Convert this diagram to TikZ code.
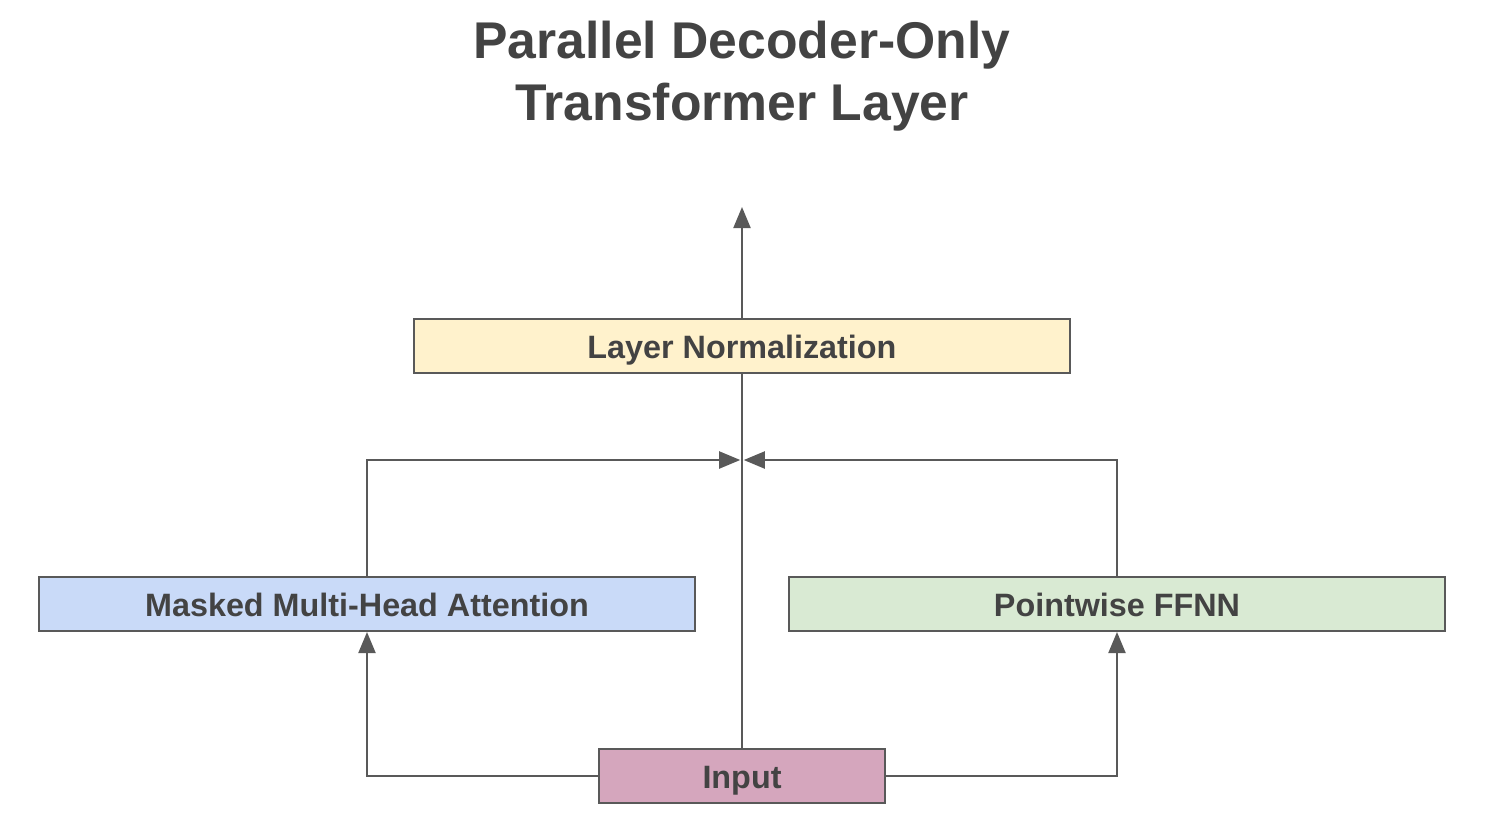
\documentclass[tikz,border=0pt]{standalone}
\usepackage{fontspec}
\setmainfont{Liberation Sans}
\usetikzlibrary{arrows.meta}

\definecolor{linegray}{HTML}{595959}
\definecolor{textgray}{HTML}{434343}
\definecolor{normfill}{HTML}{FFF2CC}
\definecolor{attnfill}{HTML}{C9DAF8}
\definecolor{ffnnfill}{HTML}{D9EAD3}
\definecolor{inputfill}{HTML}{D5A6BD}

\begin{document}
\begin{tikzpicture}[
  layerbox/.style={draw=linegray, line width=0.02cm, minimum width=6.56cm, minimum height=0.54cm,
    inner sep=0pt, text height=0.24cm, text depth=0cm, text=textgray,
    font=\fontsize{9.2}{11}\selectfont\bfseries},
  flow/.style={draw=linegray, line width=0.02cm},
  tip/.style={-{Triangle[length=0.21cm,width=0.17cm]}}
]
  \useasboundingbox (0,0) rectangle (14.86,8.30);

  \node[anchor=base, align=center, text=textgray, font=\fontsize{14.7}{17.6}\selectfont\bfseries] (title)
    at (7.42,7.10) {Parallel Decoder-Only\\Transformer Layer};

  \node[layerbox, fill=normfill] (norm) at (7.42,4.84) {Layer Normalization};
  \node[layerbox, fill=attnfill] (attn) at (3.67,2.26) {Masked Multi-Head Attention};
  \node[layerbox, fill=ffnnfill] (ffnn) at (11.17,2.26) {Pointwise FFNN};
  \node[layerbox, fill=inputfill, minimum width=2.86cm] (input) at (7.42,0.54) {Input};

  \coordinate (merge) at (7.42,3.70);
  \coordinate (out) at (7.42,6.23);

  \draw[flow] (input) -- (norm);
  \draw[flow, tip] (norm) -- (out);
  \draw[flow, tip] (input.west) -| (attn.south);
  \draw[flow, tip] (input.east) -| (ffnn.south);
  \draw[flow, tip, shorten >=0.5pt] (attn.north) |- (merge);
  \draw[flow, tip, shorten >=0.5pt] (ffnn.north) |- (merge);
\end{tikzpicture}
\end{document}
